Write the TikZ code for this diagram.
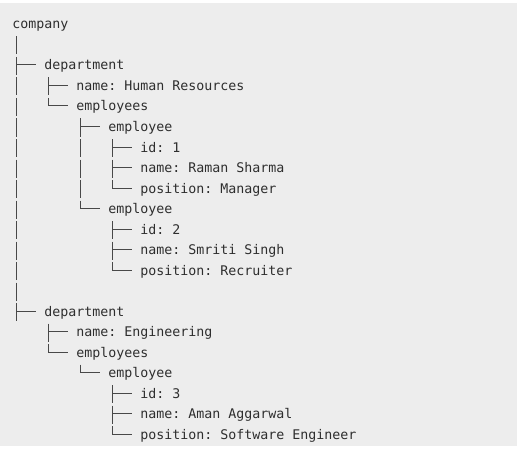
\documentclass[tikz,border=0pt]{standalone}
\usepackage{fontspec}
\setmonofont{DejaVu Sans Mono}
\definecolor{bgc}{HTML}{EDEDED}
\definecolor{txc}{HTML}{2E2E2E}
\definecolor{lnc}{HTML}{484848}
\newcommand\cx[1]{12.3+8*#1}
\newcommand\by[1]{29+20.5*#1}
\begin{document}
\begin{tikzpicture}[x=1pt,y=-1pt,
  lbl/.style={anchor=base west,inner sep=0pt,outer sep=0pt,text=txc,
    font=\ttfamily\fontsize{13.29}{16}\selectfont},
  treeline/.style={draw=lnc,line width=1pt}]
\fill[white] (0,0) rectangle (518,449);
\useasboundingbox (0,0) rectangle (518,449);
\fill[bgc] (0,3) rectangle (517,446);
% tree glyph macros: column, row
\newcommand\tvbar[2]{\draw[treeline] ({\cx{#1}+3.7},{\by{#2}-13}) -- ++(0,18);}
\newcommand\ttee[2]{\tvbar{#1}{#2}\draw[treeline] ({\cx{#1}+3.7},{\by{#2}-5}) -- ({\cx{#1}+24},{\by{#2}-5});}
\newcommand\telb[2]{\draw[treeline] ({\cx{#1}+3.7},{\by{#2}-13}) -- ({\cx{#1}+3.7},{\by{#2}-5}) -- ({\cx{#1}+24},{\by{#2}-5});}
% labels
\node[lbl] (company) at ({\cx{0}},{\by{0}}) {company};
\node[lbl] (dept1) at ({\cx{4}},{\by{2}}) {department};
\node[lbl] (name1) at ({\cx{8}},{\by{3}}) {name: Human Resources};
\node[lbl] (emps1) at ({\cx{8}},{\by{4}}) {employees};
\node[lbl] (emp1) at ({\cx{12}},{\by{5}}) {employee};
\node[lbl] (id1) at ({\cx{16}},{\by{6}}) {id: 1};
\node[lbl] (nm1) at ({\cx{16}},{\by{7}}) {name: Raman Sharma};
\node[lbl] (pos1) at ({\cx{16}},{\by{8}}) {position: Manager};
\node[lbl] (emp2) at ({\cx{12}},{\by{9}}) {employee};
\node[lbl] (id2) at ({\cx{16}},{\by{10}}) {id: 2};
\node[lbl] (nm2) at ({\cx{16}},{\by{11}}) {name: Smriti Singh};
\node[lbl] (pos2) at ({\cx{16}},{\by{12}}) {position: Recruiter};
\node[lbl] (dept2) at ({\cx{4}},{\by{14}}) {department};
\node[lbl] (name2) at ({\cx{8}},{\by{15}}) {name: Engineering};
\node[lbl] (emps2) at ({\cx{8}},{\by{16}}) {employees};
\node[lbl] (emp3) at ({\cx{12}},{\by{17}}) {employee};
\node[lbl] (id3) at ({\cx{16}},{\by{18}}) {id: 3};
\node[lbl] (nm3) at ({\cx{16}},{\by{19}}) {name: Aman Aggarwal};
\node[lbl] (pos3) at ({\cx{16}},{\by{20}}) {position: Software Engineer};
% tree lines
\tvbar{0}{1}
\ttee{0}{2}
\tvbar{0}{3}\ttee{4}{3}
\tvbar{0}{4}\telb{4}{4}
\tvbar{0}{5}\ttee{8}{5}
\tvbar{0}{6}\tvbar{8}{6}\ttee{12}{6}
\tvbar{0}{7}\tvbar{8}{7}\ttee{12}{7}
\tvbar{0}{8}\tvbar{8}{8}\telb{12}{8}
\tvbar{0}{9}\telb{8}{9}
\tvbar{0}{10}\ttee{12}{10}
\tvbar{0}{11}\ttee{12}{11}
\tvbar{0}{12}\telb{12}{12}
\tvbar{0}{13}
\ttee{0}{14}
\ttee{4}{15}
\telb{4}{16}
\telb{8}{17}
\ttee{12}{18}
\ttee{12}{19}
\telb{12}{20}
\end{tikzpicture}
\end{document}
